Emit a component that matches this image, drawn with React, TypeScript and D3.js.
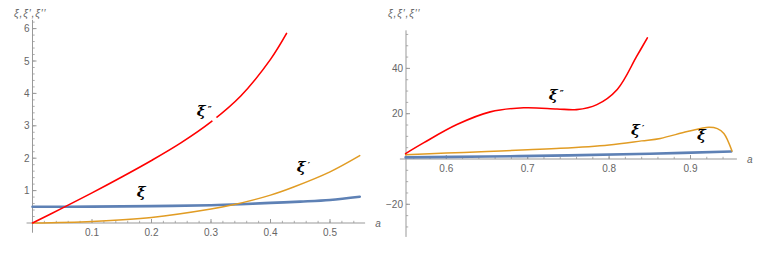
import * as d3 from "d3"

// left panel (a from 0 to 0.55)
const leftXiA = [0, 0.1, 0.2, 0.3, 0.35, 0.4, 0.45, 0.5, 0.55]
const leftXi = [0.5, 0.505, 0.52, 0.55, 0.58, 0.62, 0.66, 0.71, 0.81]
const leftXi1A = [0, 0.1, 0.2, 0.3, 0.337, 0.4, 0.44, 0.5, 0.55]
const leftXi1 = [0, 0.05, 0.17, 0.43, 0.56, 0.86, 1.12, 1.58, 2.08]
const leftXi2A = [0, 0.05, 0.1, 0.15, 0.2, 0.25, 0.3, 0.35, 0.4, 0.427]
const leftXi2 = [0, 0.46, 0.93, 1.42, 1.93, 2.48, 3.12, 3.92, 5.05, 5.85]
const leftXTicks = [0.1, 0.2, 0.3, 0.4, 0.5]
const leftYTicks = [1, 2, 3, 4, 5, 6]

// right panel (a from 0.55 to 0.95)
const rightXiA = [0.55, 0.65, 0.75, 0.85, 0.95]
const rightXi = [0.7, 1.1, 1.6, 2.3, 3.3]
const rightXi1A = [0.55, 0.6, 0.65, 0.7, 0.74, 0.8, 0.84, 0.863, 0.896, 0.9225, 0.933, 0.941, 0.951]
const rightXi1 = [1.9, 2.6, 3.3, 4.1, 4.7, 6.2, 8.0, 9.1, 12.1, 14.0, 13.4, 11.3, 3.5]
const rightXi2A = [0.55, 0.572, 0.613, 0.654, 0.695, 0.736, 0.76, 0.785, 0.81, 0.834, 0.847]
const rightXi2 = [2.4, 7.1, 15.2, 20.8, 22.6, 22.1, 21.8, 24.0, 30.7, 45.4, 53.5]
const rightXTicks = [0.6, 0.7, 0.8, 0.9]
const rightYTicks = [-20, 20, 40]

const yTitle = "ξ,ξ′,ξ′′"

const colors = { xi: "#5E81B5", xi1: "#E19C24", xi2: "#FF0000" }
const axisColor = "#999"
const tickText = "#666"
const font = "'Liberation Sans', Arial, sans-serif"

type Series = { a: number[]; v: number[]; color: string; width: number }
type Label = { a: number; v: number; prime: string }

function Panel(props: {
  x: d3.ScaleLinear<number, number>
  y: d3.ScaleLinear<number, number>
  xAxis: [number, number]
  yAxis: [number, number]
  axisAt: number
  xTicks: number[]
  xMinor: number[]
  yTicks: number[]
  yMinor: number[]
  series: Series[]
  labels: Label[]
  fmtX: (d: number) => string
  fmtY: (d: number) => string
  titleX: number
  gap?: [number, number]
}) {
  const { x, y } = props
  const line = (s: Series) =>
    d3
      .line<number>()
      .x((d, i) => x(s.a[i]))
      .y((d) => y(d))
      .curve(d3.curveCatmullRom.alpha(0.5))(s.v) || ""
  const y0 = y(0)
  const axX = x(props.axisAt)
  return (
    <g>
      {/* axes */}
      <line x1={x(props.xAxis[0])} x2={x(props.xAxis[1])} y1={y0} y2={y0} stroke={axisColor} strokeWidth={1} />
      <line x1={axX} x2={axX} y1={y(props.yAxis[0])} y2={y(props.yAxis[1])} stroke={axisColor} strokeWidth={1} />
      {props.xMinor.map((t) => (
        <line key={"xm" + t} x1={x(t)} x2={x(t)} y1={y0} y2={y0 - 2.2} stroke={axisColor} strokeWidth={0.8} />
      ))}
      {props.xTicks.map((t) => (
        <g key={"x" + t}>
          <line x1={x(t)} x2={x(t)} y1={y0} y2={y0 - 4} stroke={axisColor} />
          <text x={x(t)} y={y0 + 13} textAnchor="middle" fontSize={10} fill={tickText} fontFamily={font}>
            {props.fmtX(t)}
          </text>
        </g>
      ))}
      {props.yMinor.map((t) => (
        <line key={"ym" + t} x1={axX} x2={axX + 2.2} y1={y(t)} y2={y(t)} stroke={axisColor} strokeWidth={0.8} />
      ))}
      {props.yTicks.map((t) => (
        <g key={"y" + t}>
          <line x1={axX} x2={axX + 4} y1={y(t)} y2={y(t)} stroke={axisColor} />
          <text x={axX - 3} y={y(t) + 3.5} textAnchor="end" fontSize={10} fill={tickText} fontFamily={font}>
            {props.fmtY(t)}
          </text>
        </g>
      ))}
      <text x={x(props.xAxis[1]) + 13} y={y0 + 4} textAnchor="middle" fontSize={10} fill={tickText} fontFamily={font} fontStyle="italic">
        a
      </text>
      <text x={props.titleX} y={17} fontSize={10.5} letterSpacing={0.8} fill={tickText} fontFamily={font} fontStyle="italic">
        {yTitle}
      </text>
      {/* curves */}
      {props.series.map((s, i) => (
        <path key={i} d={line(s)} fill="none" stroke={s.color} strokeWidth={s.width} strokeLinecap="round" />
      ))}
      {props.gap && <circle cx={x(props.gap[0])} cy={y(props.gap[1])} r={2.6} fill="#fff" />}
      {props.labels.map((l, i) => (
        <g key={i} transform={`translate(${x(l.a)},${y(l.v)})`}>
          <text fontSize={15} fontWeight="bold" fontStyle="italic" fontFamily="'DejaVu Serif', serif" fill="#000">
            ξ
          </text>
          <text x={11} y={-3} fontSize={9} fontWeight="bold" fontFamily="'DejaVu Sans', sans-serif" fill="#000">
            {l.prime}
          </text>
        </g>
      ))}
    </g>
  )
}

const range = (a: number, b: number, s: number) =>
  d3.range(Math.round(a / s), Math.round(b / s) + 1).map((k) => +(k * s).toFixed(4))

export default function App() {
  const xl = d3.scaleLinear().domain([0, 0.1]).range([32.5, 92])
  const yl = d3.scaleLinear().domain([0, 1]).range([223, 190.6])
  const xr = d3.scaleLinear().domain([0.55, 0.65]).range([405.6, 487])
  const yr = d3.scaleLinear().domain([0, 20]).range([159, 113.7])

  const left: Series[] = [
    { a: leftXiA, v: leftXi, color: colors.xi, width: 2.6 },
    { a: leftXi1A, v: leftXi1, color: colors.xi1, width: 1.5 },
    { a: leftXi2A, v: leftXi2, color: colors.xi2, width: 1.6 },
  ]
  const right: Series[] = [
    { a: rightXiA, v: rightXi, color: colors.xi, width: 2.6 },
    { a: rightXi1A, v: rightXi1, color: colors.xi1, width: 1.5 },
    { a: rightXi2A, v: rightXi2, color: colors.xi2, width: 1.6 },
  ]

  return (
    <svg width={780} height={253} style={{ position: "absolute", left: 0, top: 0, background: "#fff" }}>
      <Panel
        x={xl}
        y={yl}
        xAxis={[-0.01, 0.559]}
        yAxis={[-0.3, 6.27]}
        axisAt={0}
        xTicks={leftXTicks}
        xMinor={range(0.02, 0.54, 0.02)}
        yTicks={leftYTicks}
        yMinor={range(0.2, 6.2, 0.2)}
        series={left}
        labels={[
          { a: 0.276, v: 3.3, prime: "″" },
          { a: 0.175, v: 0.8, prime: "" },
          { a: 0.444, v: 1.57, prime: "′" },
        ]}
        fmtX={d3.format(".1f")}
        fmtY={d3.format("d")}
        titleX={14}
        gap={[0.306, 3.2]}
      />
      <Panel
        x={xr}
        y={yr}
        xAxis={[0.543, 0.957]}
        yAxis={[-34.4, 56.8]}
        axisAt={0.5505}
        xTicks={rightXTicks}
        xMinor={range(0.56, 0.94, 0.02)}
        yTicks={rightYTicks}
        yMinor={range(-30, 55, 5).filter((d) => d !== 0)}
        series={right}
        labels={[
          { a: 0.726, v: 26, prime: "″" },
          { a: 0.827, v: 10.6, prime: "′" },
          { a: 0.908, v: 8.4, prime: "" },
        ]}
        fmtX={d3.format(".1f")}
        fmtY={(d) => (d < 0 ? "−" + Math.abs(d) : String(d))}
        titleX={388}
      />
    </svg>
  )
}
